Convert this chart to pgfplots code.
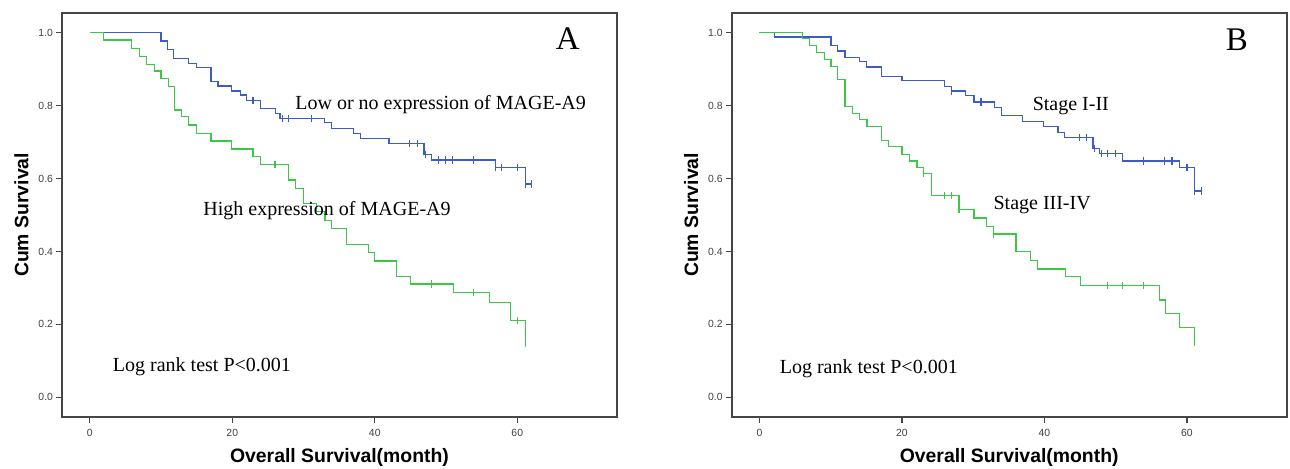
\documentclass[border=0pt]{standalone}
\usepackage{fontspec}
\setmainfont{Liberation Serif}
\setsansfont{Liberation Sans}
\usepackage{pgfplots}
\pgfplotsset{compat=1.18}

\definecolor{kmblue}{RGB}{62,92,200}
\definecolor{kmgreen}{RGB}{60,200,70}
\definecolor{axgray}{RGB}{70,70,70}

\tikzset{
  note/.style={font=\fontsize{10}{12}\selectfont, anchor=west, inner sep=0pt},
  panel/.style={font=\fontsize{16.5}{20}\selectfont, inner sep=0pt},
}

\pgfplotsset{
  km/.style={
    scale only axis, width=277.5pt, height=202pt,
    xmin=-3.9, xmax=74, ymin=-0.054, ymax=1.054,
    xtick={0,20,40,60}, ytick={0,0.2,0.4,0.6,0.8,1.0},
    yticklabel style={/pgf/number format/fixed, /pgf/number format/fixed zerofill,
      /pgf/number format/precision=1, xshift=2pt},
    xticklabel style={yshift=0.3pt},
    /pgf/number format/assume math mode=true,
    tick label style={font=\sffamily\fontsize{5.2}{6}\selectfont, text=black!75},
    tick align=outside, major tick length=3pt,
    xtick pos=bottom, ytick pos=left,
    tick style={axgray, line width=0.7pt},
    axis line style={axgray, line width=0.8pt},
    xlabel={Overall Survival(month)}, ylabel={Cum Survival},
    label style={font=\sffamily\bfseries\fontsize{9.7}{12}\selectfont},
    xlabel style={at={(axis description cs:0.5,-0.101)}, anchor=center},
    ylabel style={at={(axis description cs:-0.073,0.5)}, anchor=center},
    every axis plot/.append style={line width=0.6pt},
    clip=false,
  },
  cens/.style={only marks, mark=|, mark size=1.8pt, mark options={line width=0.6pt}},
}

\begin{document}
\begin{tikzpicture}

% panel A: MAGE-A9 expression
\begin{axis}[km, at={(0,0)}, anchor=south west]
\addplot[draw=kmblue, const plot] coordinates {
  (0,1.0) (10.0,0.977) (10.9,0.955) (11.8,0.930) (13.8,0.916) (15.0,0.904)
  (17.0,0.866) (18.0,0.854) (19.9,0.840) (21.1,0.829) (22.0,0.815) (24.0,0.793)
  (26.1,0.779) (26.7,0.765) (32.9,0.753) (33.9,0.738) (37.0,0.724) (38.0,0.710)
  (42.0,0.697) (46.9,0.665) (48.0,0.651) (56.9,0.631) (61.1,0.585) (62.0,0.585)};
\addplot[kmblue, cens] coordinates {
  (22.9,0.815) (27.0,0.765) (27.9,0.765) (31.1,0.765) (44.9,0.697) (46.0,0.697)
  (47.1,0.665) (48.9,0.651) (49.9,0.651) (50.9,0.651) (53.9,0.651) (57.0,0.631)
  (57.8,0.631) (60.0,0.631) (61.1,0.585) (62.0,0.585)};
\addplot[draw=kmgreen, const plot] coordinates {
  (0,1.0) (1.9,0.980) (5.9,0.957) (7.0,0.934) (8.0,0.913) (9.1,0.895) (10.0,0.875)
  (11.0,0.852) (11.9,0.788) (12.9,0.770) (13.9,0.747) (15.0,0.724) (17.0,0.703)
  (19.9,0.681) (22.9,0.660) (24.0,0.639) (27.9,0.596) (28.9,0.573) (30.0,0.532)
  (31.8,0.509) (33.0,0.486) (33.9,0.463) (36.0,0.420) (39.1,0.397) (40.0,0.374)
  (43.1,0.331) (45.0,0.311) (51.0,0.287) (56.1,0.261) (59.1,0.210) (61.1,0.148)};
\addplot[kmgreen, cens] coordinates {
  (26.0,0.639) (48.0,0.311) (53.9,0.287) (60.0,0.210) (61.1,0.148)};
\node[panel] at (axis cs:67.1,0.983) {A};
\node[note] at (axis cs:28.8,0.804) {Low or no expression of MAGE-A9};
\node[note] at (axis cs:15.9,0.511) {High expression of MAGE-A9};
\node[note] at (axis cs:3.2,0.084) {Log rank test P<0.001};
\end{axis}

% panel B: stage
\begin{axis}[km, at={(334.85pt,0)}, anchor=south west]
\addplot[draw=kmblue, const plot] coordinates {
  (0,1.0) (2.06,0.988) (10.05,0.964) (11.0,0.950) (12.0,0.933) (14.0,0.920)
  (15.0,0.906) (17.1,0.880) (20.0,0.868) (26.0,0.852) (27.0,0.840) (28.9,0.827)
  (30.1,0.810) (33.0,0.795) (34.0,0.772) (36.9,0.756) (39.9,0.742) (41.9,0.726)
  (42.8,0.712) (46.8,0.683) (47.7,0.668) (51.0,0.648) (59.0,0.630) (61.1,0.566)
  (62.0,0.566)};
\addplot[kmblue, cens] coordinates {
  (27.0,0.840) (31.1,0.810) (44.9,0.712) (45.9,0.712) (47.0,0.683) (48.0,0.668)
  (48.9,0.668) (50.0,0.668) (53.9,0.648) (56.9,0.648) (57.9,0.648) (60.0,0.630)
  (61.1,0.566) (62.0,0.566)};
\addplot[draw=kmgreen, const plot] coordinates {
  (0,1.0) (6.0,0.984) (7.0,0.964) (8.0,0.945) (9.1,0.927) (10.05,0.907) (11.0,0.872)
  (12.0,0.797) (13.0,0.779) (14.0,0.763) (15.1,0.742) (17.1,0.705) (18.1,0.688)
  (20.0,0.667) (21.1,0.648) (22.1,0.630) (23.0,0.614) (24.1,0.554) (28.0,0.516)
  (30.1,0.492) (31.9,0.468) (32.8,0.448) (36.0,0.400) (38.0,0.376) (39.0,0.352)
  (43.0,0.331) (45.0,0.306) (56.1,0.267) (57.0,0.230) (59.0,0.192) (61.1,0.151)};
\addplot[kmgreen, cens] coordinates {
  (23.0,0.614) (26.0,0.554) (27.0,0.554) (28.0,0.516) (32.8,0.448) (48.9,0.306)
  (51.0,0.306) (53.9,0.306) (61.1,0.151)};
\node[panel] at (axis cs:67.0,0.98) {B};
\node[note] at (axis cs:38.3,0.80) {Stage I-II};
\node[note] at (axis cs:32.8,0.528) {Stage III-IV};
\node[note] at (axis cs:2.8,0.079) {Log rank test P<0.001};
\end{axis}

\pgfresetboundingbox
\path[use as bounding box] (-31pt,-25.5pt) rectangle (614pt,208.5pt);
\end{tikzpicture}
\end{document}
